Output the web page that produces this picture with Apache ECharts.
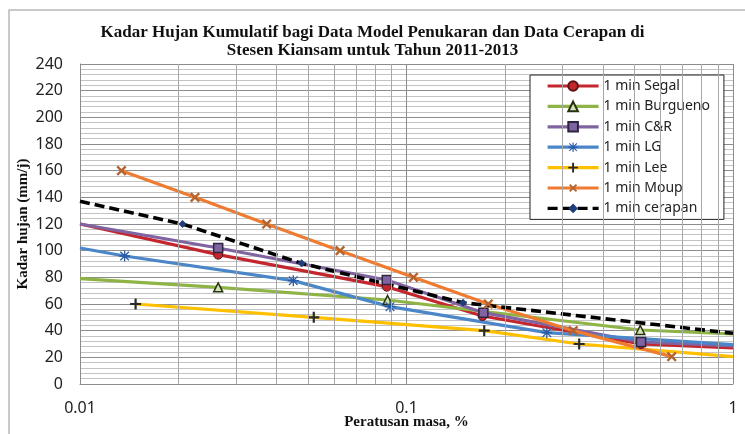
<!DOCTYPE html>
<html>
<head>
<meta charset="utf-8">
<script src="https://cdn.jsdelivr.net/npm/echarts@6/dist/echarts.min.js"></script>
<style>
  html, body { margin: 0; padding: 0; background: #fff; }
  #chart { width: 745px; height: 434px; }
</style>
</head>
<body>
<div id="chart"></div>
<script>
// minor vertical grid (log decades 2..9)
const minorX = [0.02, 0.03, 0.04, 0.05, 0.06, 0.07, 0.08, 0.09,
                0.2, 0.3, 0.4, 0.5, 0.6, 0.7, 0.8, 0.9]

const seriesNames = ['1 min Segal', '1 min Burgueno', '1 min C&R', '1 min LG',
                     '1 min Lee', '1 min Moup', '1 min cerapan']

// values (x = peratusan masa, y = kadar hujan)
const segalX = [0.01, 0.0265, 0.087, 0.171, 0.523, 1]
const segalY = [120, 97, 73, 51, 30, 27]

const burguenoX = [0.01, 0.0265, 0.0875, 0.52, 1]
const burguenoY = [79, 72.5, 63, 40.5, 37.5]

const crX = [0.01, 0.0265, 0.087, 0.172, 0.523, 1]
const crY = [120, 102, 78, 53.5, 31.5, 28.5]

const lgX = [0.01, 0.0137, 0.045, 0.089, 0.269, 1]
const lgY = [102, 96, 77.5, 58, 38.5, 29.5]

const leeX = [0.0148, 0.052, 0.173, 0.338, 1]
const leeY = [60, 50, 40, 30, 20.5]

const moupX = [0.0134, 0.0225, 0.0373, 0.0626, 0.105, 0.178, 0.324, 0.649]
const moupY = [160, 140, 120, 100, 80, 60, 40, 20.5]

const cerapanX = [0.01, 0.0206, 0.0477, 0.149, 1]
const cerapanY = [137, 120, 90.5, 61, 38]

const plusPath = 'path://M4,0H6V4H10V6H6V10H4V6H0V4H4Z'
const starPath = 'path://M4.4,0H5.6V4.4H10V5.6H5.6V10H4.4V5.6H0V4.4H4.4Z' +
  'M1.5,0.7L5,4.2L8.5,0.7L9.3,1.5L5.8,5L9.3,8.5L8.5,9.3L5,5.8L1.5,9.3L0.7,8.5L4.2,5L0.7,1.5Z'

// points sitting on the axis bounds are only line continuations (no marker)
const pairs = (xs, ys) => xs.map((x, i) => {
  if (x <= 0.01 || x >= 1) return { value: [x, ys[i]], symbol: 'none' }
  return [x, ys[i]]
})

const mkSeries = (i, xs, ys, lineColor, symbol, symColor, opts = {}) => ({
  name: seriesNames[i],
  type: 'line',
  z: 3,
  data: pairs(xs, ys),
  symbol,
  symbolSize: opts.size || 9,
  symbolRotate: opts.rotate || 0,
  lineStyle: { color: lineColor, width: opts.width || 3.2, type: opts.dash || 'solid' },
  itemStyle: { color: symColor, borderColor: opts.border || symColor, borderWidth: opts.borderWidth || 0 },
  emphasis: { disabled: true },
  animation: false,
})

const chart = echarts.init(document.getElementById('chart'))

const option = {
  backgroundColor: '#fff',
  title: {
    text: 'Kadar Hujan Kumulatif bagi Data Model Penukaran dan Data Cerapan di\nStesen Kiansam untuk Tahun 2011-2013',
    left: 'center',
    top: 19,
    textStyle: { fontFamily: 'Liberation Serif', fontWeight: 'bold', fontSize: 17, lineHeight: 18, color: '#111' },
  },
  graphic: [{
    type: 'rect',
    shape: { x: 9, y: 10, width: 745, height: 440 },
    style: { fill: 'none', stroke: '#b8b8b8', lineWidth: 1.5 },
    silent: true,
  }],
  legend: {
    orient: 'vertical',
    left: 530,
    top: 75,
    width: 196,
    backgroundColor: '#fff',
    borderColor: '#222',
    borderWidth: 1,
    padding: [3, 14, 3, 16],
    itemWidth: 51,
    itemHeight: 12,
    itemGap: 4.4,
    lineStyle: { width: 3.2 },
    textStyle: { fontFamily: 'Noto Sans', fontSize: 14, color: '#222', lineHeight: 16 },
    data: seriesNames,
  },
  grid: { left: 80, right: 12, top: 64, bottom: 50, outerBoundsMode: 'none' },
  xAxis: {
    type: 'log',
    logBase: 10,
    min: 0.01,
    max: 1,
    splitNumber: 2,
    name: 'Peratusan masa, %',
    nameLocation: 'middle',
    nameGap: 31,
    nameMoveOverlap: false,
    nameTextStyle: { fontFamily: 'Liberation Serif', fontWeight: 'bold', fontSize: 15, color: '#111' },
    axisLine: { lineStyle: { color: '#8c8c8c' } },
    axisTick: { show: false },
    axisLabel: { fontFamily: 'Noto Sans', fontSize: 16, color: '#222', margin: 16 },
    splitLine: { show: true, lineStyle: { color: '#8c8c8c', width: 1 } },
  },
  yAxis: {
    type: 'value',
    min: 0,
    max: 240,
    interval: 20,
    name: 'Kadar hujan (mm/j)',
    nameLocation: 'middle',
    nameRotate: 90,
    nameGap: 49,
    nameMoveOverlap: false,
    nameTextStyle: { fontFamily: 'Liberation Serif', fontWeight: 'bold', fontSize: 15, color: '#111' },
    axisLine: { show: true, lineStyle: { color: '#8c8c8c' } },
    axisTick: { show: false },
    axisLabel: { fontFamily: 'Noto Sans', fontSize: 16, color: '#222', margin: 17 },
    splitLine: { show: true, lineStyle: { color: '#8c8c8c', width: 1 } },
    minorTick: { show: false, splitNumber: 5 },
    minorSplitLine: { show: true, lineStyle: { color: '#c4c4c4', width: 1 } },
  },
  series: [
    {
      type: 'line',
      z: 1,
      data: [],
      silent: true,
      markLine: {
        silent: true,
        symbol: ['none', 'none'],
        label: { show: false },
        lineStyle: { color: '#a8a8a8', type: 'solid', width: 1 },
        animation: false,
        data: minorX.map(v => ({ xAxis: v })),
      },
    },
    mkSeries(0, segalX, segalY, '#c4262e', 'circle', '#c4262e', { border: '#5a1416', borderWidth: 1 }),
    mkSeries(1, burguenoX, burguenoY, '#8fb446', 'triangle', '#d4e2b8', { border: '#26330f', borderWidth: 1.5 }),
    mkSeries(2, crX, crY, '#8064a2', 'rect', '#8064a2', { border: '#2e2540', borderWidth: 1.5 }),
    mkSeries(3, lgX, lgY, '#4a86c8', starPath, '#2b5aa6', { size: 11 }),
    mkSeries(4, leeX, leeY, '#ffc000', plusPath, '#2a2a2a', { size: 11 }),
    mkSeries(5, moupX, moupY, '#ee7b30', plusPath, '#b3642f', { size: 12, rotate: 45 }),
    mkSeries(6, cerapanX, cerapanY, '#000', 'diamond', '#1f3d7a', { size: 8, width: 3.6, dash: [10, 5] }),
  ],
}

chart.setOption(option)
</script>
</body>
</html>
